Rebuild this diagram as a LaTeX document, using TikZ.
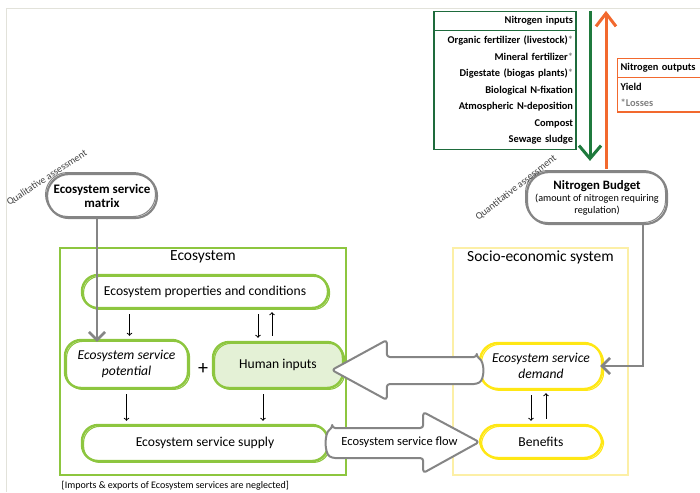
\documentclass[tikz,border=0pt]{standalone}
\usepackage{fontspec}
\setmainfont{Carlito}
\usetikzlibrary{arrows,arrows.meta,positioning,calc,shapes.multipart}

\definecolor{ecogreen}{HTML}{8DC63F}
\definecolor{humanfill}{HTML}{E4F1D6}
\definecolor{socioframe}{HTML}{FCEFA6}
\definecolor{socioline}{HTML}{FFE714}
\definecolor{ngreen}{HTML}{1E6B3C}
\definecolor{narrowgreen}{HTML}{1F7A3D}
\definecolor{norange}{HTML}{F2692E}
\definecolor{sketchgray}{HTML}{858585}
\definecolor{framegray}{HTML}{E2E2DA}
\newcommand{\gast}{\textcolor{gray}{*}}

\begin{document}
\begin{tikzpicture}[x=1pt,y=-1pt,>=stealth',thick,
	font=\fontsize{13.6}{15.5}\selectfont,
	eco node/.style={draw=ecogreen,line width=2.4pt,rounded corners=16pt,align=center,inner sep=2pt,
		postaction={draw=ecogreen,line width=1.1pt,transform canvas={shift={(1.6pt,-1.4pt)}}}},
	socio node/.style={draw=socioline,line width=2.4pt,rounded corners=18pt,align=center,inner sep=2pt,
		postaction={draw=socioline,line width=1.1pt,transform canvas={shift={(1.6pt,-1.4pt)}}}},
	cloud node/.style={draw=sketchgray,line width=2.2pt,rounded corners=22pt,align=center,inner sep=2pt,
		postaction={draw=sketchgray,line width=1pt,transform canvas={shift={(-1.5pt,1.5pt)}}}},
	sys box/.style={rectangle,line width=1.5pt},
	sys title/.style={font=\fontsize{15.5}{17}\selectfont},
	small arrow/.style={->,>=to,line width=1pt,shorten >=3pt,shorten <=5pt},
	gray arrow/.style={-{Straight Barb[length=8pt,width=16pt]},draw=sketchgray,line width=2.6pt},
	big arrow/.style={draw=sketchgray,fill=white,line width=2pt,rounded corners=3pt,line join=round},
	n table/.style={rectangle split,rectangle split parts=2,line width=1.2pt,text width=#1,
		inner xsep=3pt,inner ysep=4.5pt,font=\bfseries\fontsize{10.4}{16.5}\selectfont},
	assess/.style={font=\fontsize{10}{11}\selectfont,text=darkgray}]

	\useasboundingbox (0,0) rectangle (700,492);
	\clip (0,0) rectangle (700,492);
	\draw[framegray,line width=1pt] (6,492) |- (700,9);

	% the two systems
	\node[sys box,draw=ecogreen,minimum width=286pt,minimum height=227pt] (ecobox) at (203,361.5) {};
	\node[sys title,below=0pt of ecobox.north] (ecotitle) {Ecosystem};
	\node[sys box,draw=socioframe,minimum width=175pt,minimum height=227pt] (sociobox) at (540.5,361.5) {};
	\node[sys title,below=0pt of sociobox.north] (sociotitle) {Socio-economic system};

	\node[eco node,minimum width=246pt,minimum height=33pt] (props) at (205,291.5) {Ecosystem properties and conditions};
	\node[eco node,minimum width=123pt,minimum height=48pt,font=\itshape\fontsize{13.6}{15.5}\selectfont] (pot) at (126.5,364) {Ecosystem service\\potential};
	\node[font=\fontsize{20}{20}\selectfont] (plus) at (203,369) {+};
	\node[eco node,fill=humanfill,minimum width=130pt,minimum height=46pt] (hum) at (278,365) {Human inputs};
	\node[eco node,minimum width=246pt,minimum height=36pt] (supply) at (205,443) {Ecosystem service supply};

	\node[socio node,minimum width=122pt,minimum height=46pt,font=\itshape\fontsize{13.6}{15.5}\selectfont] (dem) at (541,366) {Ecosystem service\\demand};
	\node[socio node,minimum width=122pt,minimum height=33pt] (ben) at (541,441.5) {Benefits};

	% assessment clouds
	\node[cloud node,minimum width=110pt,minimum height=44pt,font=\bfseries\fontsize{13}{14}\selectfont] (matrix) at (102,196) {Ecosystem service\\matrix};
	\node[cloud node,minimum width=140pt,minimum height=52pt,font=\fontsize{10.2}{12}\selectfont] (budget) at (597,198)
		{{\bfseries\fontsize{12.8}{12}\selectfont Nitrogen Budget}\\(amount of nitrogen requiring\\regulation)};
	\node[assess,rotate=33] (qual) at (47,178) {Qualitative assessment};
	\node[assess,rotate=38] (quant) at (516,188) {Quantitative assessment};

	% nitrogen tables
	\node[n table=136pt,draw=ngreen,align=right] (nin) at (505,80.5)
		{Nitrogen inputs\nodepart{two}Organic fertilizer (livestock)\gast\\Mineral fertilizer\gast\\Digestate (biogas plants)\gast\\Biological N-fixation\\Atmospheric N-deposition\\Compost\\Sewage sludge};
	\node[n table=100pt,draw=norange,align=left,anchor=north west] (nout) at (617,58)
		{Nitrogen outputs\nodepart{two}Yield\\\textcolor{gray}{*Losses}};

	\draw[-{Straight Barb[length=13pt,width=22pt]},narrowgreen,line width=3pt]
		($(budget.north)+(-7,-160)$) -- ($(budget.north)+(-7,-10)$);
	\draw[-{Straight Barb[length=13pt,width=20pt]},norange,line width=3pt]
		($(budget.north)+(9,-2)$) -- ($(budget.north)+(9,-160)$);

	\draw[gray arrow] ($(matrix.south)+(-5,-2)$) -- ($(matrix.south |- pot.north)+(-5,3)$);
	\draw[gray arrow] ($(budget.south)+(46,-2)$) |- ($(dem.east)+(-3,0)$);

	% small arrows
	\path[small arrow]
	($(props.south -| pot.north)+(3,0)$) edge ($(pot.north)+(3,0)$)
	($(props.south -| hum.north)+(-20,0)$) edge ($(hum.north)+(-20,0)$)
	($(hum.north)+(-6,0)$) edge ($(props.south -| hum.north)+(-6,0)$)
	($(pot.south)+(0,0)$) edge ($(pot.south |- supply.north)+(0,0)$)
	($(hum.south)+(-15,0)$) edge ($(hum.south |- supply.north)+(-15,0)$)
	($(dem.south)+(-10,0)$) edge ($(ben.north)+(-10,0)$)
	($(ben.north)+(5,0)$) edge ($(dem.south)+(5,0)$);

	% hollow arrows
	\draw[big arrow] ($(dem.west)+(-2,-9)$) coordinate (lt) -- ++(-90,0) -- ++(0,-17) -- ++(-55,30)
		-- ++(55,30) -- ++(0,-16) -- ++(90,0) .. controls +(8,-5) and +(8,5) .. (lt) -- cycle;
	\draw[big arrow] ($(supply.east)+(3,-15)$) coordinate (ft) -- ++(91,0) -- ++(0,-16) -- ++(56,30)
		-- ++(-56,31) -- ++(0,-15) -- ++(-91,0) .. controls +(-8,-5) and +(-8,5) .. (ft) -- cycle;
	\node[font=\fontsize{12.5}{14}\selectfont] (flowlbl) at ($(supply.east)!0.47!(ben.west)$) {Ecosystem service flow};

	\node[anchor=west,font=\fontsize{10}{12}\selectfont] (note) at (58,486) {[Imports \& exports of Ecosystem services are neglected]};
\end{tikzpicture}
\end{document}
